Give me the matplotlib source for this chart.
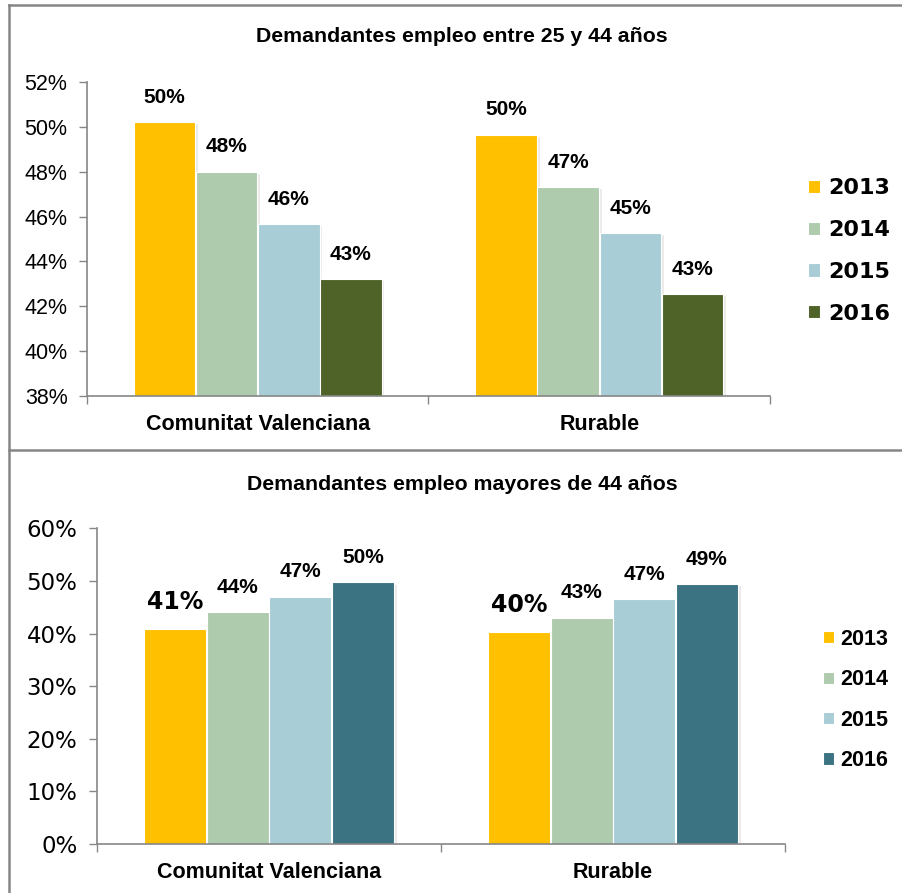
import matplotlib
matplotlib.use("Agg")
import matplotlib.pyplot as plt
import matplotlib.patheffects as pe
from matplotlib.lines import Line2D
from matplotlib.ticker import FuncFormatter

# Data
categories = ["Comunitat Valenciana", "Rurable"]
years = ["2013", "2014", "2015", "2016"]

top_title = "Demandantes empleo entre 25 y 44 años"
top_values = {
    "2013": [50.2, 49.65],
    "2014": [48.0, 47.3],
    "2015": [45.65, 45.25],
    "2016": [43.2, 42.55],
}
top_ticks = [38, 40, 42, 44, 46, 48, 50, 52]

bottom_title = "Demandantes empleo mayores de 44 años"
bottom_values = {
    "2013": [40.8, 40.3],
    "2014": [44.0, 43.0],
    "2015": [47.0, 46.55],
    "2016": [49.7, 49.4],
}
bottom_ticks = [0, 10, 20, 30, 40, 50, 60]

top_colors = ["#FFC000", "#AECBAE", "#A9CDD6", "#4F6228"]
bottom_colors = ["#FFC000", "#AECBAE", "#A9CDD6", "#3B7383"]

ARIAL = "Liberation Sans"
VERDANA = "DejaVu Sans"
AXIS_GRAY = "#868686"

fig = plt.figure(figsize=(9.03, 8.93), dpi=100)

shadow = [pe.SimplePatchShadow(offset=(2, -1.5), shadow_rgbFace="black", alpha=0.08), pe.Normal()]
bar_w = 0.18
step = 0.182


def draw_panel(ax, values, colors, ticks, ylim, tick_font, tick_size, label_fonts):
    base = ylim[0]
    for i, year in enumerate(years):
        xs = [c + (i - 1.5) * step for c in range(len(categories))]
        heights = [v - base for v in values[year]]
        bars = ax.bar(xs, heights, bar_w, bottom=base,
                      color=colors[i], edgecolor="white", linewidth=0.8, label=year, zorder=2)
        for b in bars:
            b.set_path_effects(shadow)
        for x, v in zip(xs, values[year]):
            fam, size = label_fonts[i]
            ax.annotate(f"{v:.0f}%", (x, v), xytext=(0, 11), textcoords="offset points",
                        ha="center", va="bottom", fontsize=size, fontweight="bold",
                        family=fam, color="black")
    ax.set_xlim(-0.5, 1.5)
    ax.set_ylim(*ylim)
    ax.set_yticks(ticks)
    ax.yaxis.set_major_formatter(FuncFormatter(lambda v, p: f"{v:.0f}%"))
    ax.tick_params(axis="y", length=6, width=1, color=AXIS_GRAY, pad=8, labelsize=tick_size)
    for lab in ax.get_yticklabels():
        lab.set_family(tick_font)
    ax.set_xticks([-0.5, 0.5, 1.5])
    ax.set_xticklabels([])
    ax.set_xticks([0, 1], minor=True)
    ax.set_xticklabels(categories, minor=True, fontsize=15.5, fontweight="bold", family=ARIAL)
    ax.tick_params(axis="x", which="major", length=6, width=1, color=AXIS_GRAY)
    ax.tick_params(axis="x", which="minor", length=0, pad=13)
    for s in ["top", "right"]:
        ax.spines[s].set_visible(False)
    for s in ["left", "bottom"]:
        ax.spines[s].set_color(AXIS_GRAY)
        ax.spines[s].set_linewidth(1.2)


# Top panel
ax1 = fig.add_axes([0.0963, 0.5566, 0.7564, 0.3516])
draw_panel(ax1, top_values, top_colors, top_ticks, (38, 52), ARIAL, 15.5,
           [(ARIAL, 15)] * 4)
fig.text(462 / 903, 1 - 37 / 893, top_title, ha="center", va="center",
         fontsize=15.3, fontweight="bold", family=ARIAL)
leg1 = ax1.legend(loc="center left", bbox_to_anchor=(808 / 903, 1 - 251 / 893),
                  bbox_transform=fig.transFigure, frameon=False,
                  handlelength=0.55, handleheight=0.55, handletextpad=0.35,
                  labelspacing=0.98, borderaxespad=0, borderpad=0,
                  prop={"family": VERDANA, "weight": "bold", "size": 16})
for h in leg1.legend_handles:
    h.set_path_effects([])

# Bottom panel
ax2 = fig.add_axes([0.1074, 0.0549, 0.7619, 0.3535])
draw_panel(ax2, bottom_values, bottom_colors, bottom_ticks, (0, 60), VERDANA, 16.5,
           [(VERDANA, 17), (ARIAL, 15), (ARIAL, 15), (ARIAL, 15)])
fig.text(462 / 903, 1 - 484 / 893, bottom_title, ha="center", va="center",
         fontsize=15.3, fontweight="bold", family=ARIAL)
leg2 = ax2.legend(loc="center left", bbox_to_anchor=(823 / 903, 1 - 700 / 893),
                  bbox_transform=fig.transFigure, frameon=False,
                  handlelength=0.5, handleheight=0.5, handletextpad=0.3,
                  labelspacing=0.9, borderaxespad=0, borderpad=0,
                  prop={"family": ARIAL, "weight": "bold", "size": 15.5})
for h in leg2.legend_handles:
    h.set_path_effects([])

# Panel borders
fig.add_artist(Line2D([8.5 / 903, 1], [1 - 5 / 893, 1 - 5 / 893], color=AXIS_GRAY, lw=1.8))
fig.add_artist(Line2D([8.5 / 903, 1], [1 - 450 / 893, 1 - 450 / 893], color=AXIS_GRAY, lw=1.8))
fig.add_artist(Line2D([8.5 / 903, 8.5 / 903], [0, 1 - 5 / 893], color=AXIS_GRAY, lw=1.8))

fig.savefig("out.png", dpi=100)
